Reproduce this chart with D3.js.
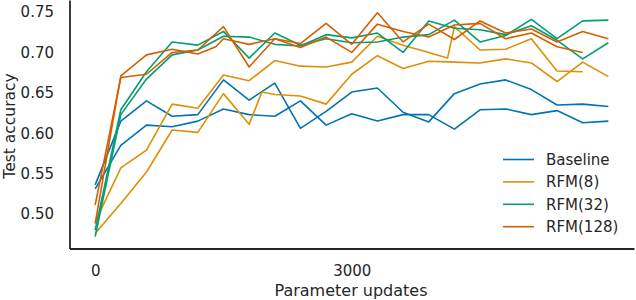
<!DOCTYPE html>
<html>
<head>
<meta charset="utf-8">
<script src="https://cdn.jsdelivr.net/npm/d3@7"></script>
<style>
  body { margin: 0; background: #fff; }
  text { font-family: "DejaVu Sans", sans-serif; }
</style>
</head>
<body>
<div id="chart"></div>
<script>
// values
const labels = ["Baseline", "RFM(8)", "RFM(32)", "RFM(128)"];
const xTicks = [0, 3000];
const yTicks = [0.50, 0.55, 0.60, 0.65, 0.70, 0.75];

const steps = [0, 300, 600, 900, 1200, 1500, 1800, 2100, 2400, 2700, 3000,
               3300, 3600, 3900, 4200, 4500, 4800, 5100, 5400, 5700, 6000];

const baselineA = [0.536, 0.615, 0.640, 0.621, 0.623, 0.666, 0.641, 0.662, 0.606, 0.627, 0.651,
                   0.656, 0.626, 0.614, 0.649, 0.661, 0.666, 0.654, 0.635, 0.636, 0.633];
const baselineB = [0.531, 0.585, 0.610, 0.608, 0.615, 0.630, 0.623, 0.621, 0.640, 0.610, 0.624,
                   0.615, 0.623, 0.623, 0.605, 0.629, 0.630, 0.623, 0.628, 0.613, 0.615];

const rfm8AX = [0, 300, 600, 900, 1200, 1500, 1800, 1950, 2100, 2400, 2700, 3000,
                3300, 3600, 3900, 4200, 4500, 4800, 5100, 5400, 5700, 6000];
const rfm8A = [0.476, 0.513, 0.552, 0.604, 0.601, 0.649, 0.611, 0.651, 0.648, 0.646, 0.636, 0.673,
               0.696, 0.680, 0.689, 0.688, 0.687, 0.692, 0.687, 0.664, 0.688, 0.670];
const rfm8BX = [0, 300, 600, 900, 1200, 1500, 1800, 2100, 2400, 2700, 3000,
                3300, 3600, 3900, 4120, 4200, 4500, 4800, 5100, 5400, 5700];
const rfm8B = [0.490, 0.557, 0.579, 0.636, 0.631, 0.672, 0.665, 0.690, 0.683, 0.682, 0.688,
               0.720, 0.709, 0.700, 0.693, 0.732, 0.703, 0.704, 0.717, 0.677, 0.676];

const rfm32A = [0.480, 0.629, 0.676, 0.713, 0.709, 0.726, 0.693, 0.724, 0.709, 0.717, 0.712,
                0.713, 0.719, 0.722, 0.740, 0.713, 0.721, 0.741, 0.717, 0.739, 0.740];
const rfm32B = [0.472, 0.623, 0.667, 0.697, 0.703, 0.720, 0.719, 0.710, 0.708, 0.722, 0.718,
                0.724, 0.700, 0.739, 0.730, 0.728, 0.722, 0.733, 0.715, 0.692, 0.712];

const rfm128A = [0.511, 0.669, 0.673, 0.700, 0.703, 0.732, 0.682, 0.717, 0.711, 0.736, 0.710,
                 0.749, 0.713, 0.735, 0.716, 0.739, 0.724, 0.729, 0.713, 0.726, 0.717];
const rfm128BX = [0, 300, 600, 900, 1200, 1410, 1500, 1800, 2100, 2400, 2700, 3000,
                  3300, 3600, 3900, 4200, 4500, 4800, 5100, 5400, 5700];
const rfm128B = [0.488, 0.671, 0.697, 0.704, 0.698, 0.707, 0.717, 0.710, 0.717, 0.706, 0.719, 0.700,
                 0.735, 0.726, 0.719, 0.734, 0.736, 0.717, 0.724, 0.707, 0.700];

const runs = [
  { label: "Baseline", x: steps, y: baselineA },
  { label: "Baseline", x: steps, y: baselineB },
  { label: "RFM(8)", x: rfm8AX, y: rfm8A },
  { label: "RFM(8)", x: rfm8BX, y: rfm8B },
  { label: "RFM(32)", x: steps, y: rfm32A },
  { label: "RFM(32)", x: steps, y: rfm32B },
  { label: "RFM(128)", x: steps, y: rfm128A },
  { label: "RFM(128)", x: rfm128BX, y: rfm128B }
];

const width = 636;
const height = 300;
const margin = { left: 69.5, right: 2, top: 0, bottom: 51.5 };

const color = d3.scaleOrdinal()
    .domain(labels)
    .range(["#0173B2", "#DE8F05", "#029E73", "#D55E00"]);

const svg = d3.select("#chart")
    .append("svg")
    .attr("width", width)
    .attr("height", height);

const x = d3.scaleLinear()
    .domain([-300, 6300])
    .range([margin.left, width - margin.right]);

const y = d3.scaleLinear()
    .domain([0.4573, 0.7649])
    .range([height - margin.bottom, margin.top]);

// lines
const line = d3.line()
    .x((d) => x(d[0]))
    .y((d) => y(d[1]));

svg.selectAll("path.run")
    .data(runs)
    .enter()
    .append("path")
    .attr("class", "run")
    .attr("fill", "none")
    .attr("stroke", (d) => color(d.label))
    .attr("stroke-width", 1.6)
    .attr("stroke-linejoin", "round")
    .attr("d", (d) => line(d.x.map((v, i) => [v, d.y[i]])));

// x axis
svg.append("g")
    .attr("transform", `translate(0,${height - margin.bottom})`)
    .call(d3.axisBottom(x).tickValues(xTicks).tickFormat(d3.format("d"))
        .tickSize(0).tickSizeOuter(0).tickPadding(17.3))
    .attr("font-size", 15)
    .attr("font-family", "DejaVu Sans")
    .attr("color", "#262626")
    .call((g) => g.select(".domain").attr("stroke-width", 1.8))
    .call((g) => g.append("text")
        .attr("x", 351)
        .attr("y", 47.5)
        .attr("fill", "#262626")
        .attr("text-anchor", "middle")
        .attr("font-size", 16)
        .text("Parameter updates")
    );

// y axis
svg.append("g")
    .attr("transform", `translate(${margin.left},0)`)
    .call(d3.axisLeft(y).tickValues(yTicks).tickFormat(d3.format(".2f"))
        .tickSize(0).tickSizeOuter(0).tickPadding(15.5))
    .attr("font-size", 15)
    .attr("font-family", "DejaVu Sans")
    .attr("color", "#262626")
    .call((g) => g.select(".domain").attr("stroke-width", 1.8))
    .call((g) => g.append("text")
        .attr("transform", `translate(${14.5 - margin.left},126) rotate(-90)`)
        .attr("fill", "#262626")
        .attr("text-anchor", "middle")
        .attr("font-size", 15.5)
        .text("Test accuracy")
    );

// legend
const legend = svg.append("g")
    .attr("transform", "translate(503,159.5)");

const rows = legend.selectAll("g")
    .data(labels)
    .enter()
    .append("g")
    .attr("transform", (d, i) => `translate(0,${i * 22.4})`);

rows.append("line")
    .attr("x1", 0)
    .attr("x2", 31)
    .attr("stroke", (d) => color(d))
    .attr("stroke-width", 1.6);

rows.append("text")
    .attr("x", 43)
    .attr("dy", "0.35em")
    .attr("font-size", 15)
    .attr("fill", "#262626")
    .text((d) => d);
</script>
</body>
</html>
